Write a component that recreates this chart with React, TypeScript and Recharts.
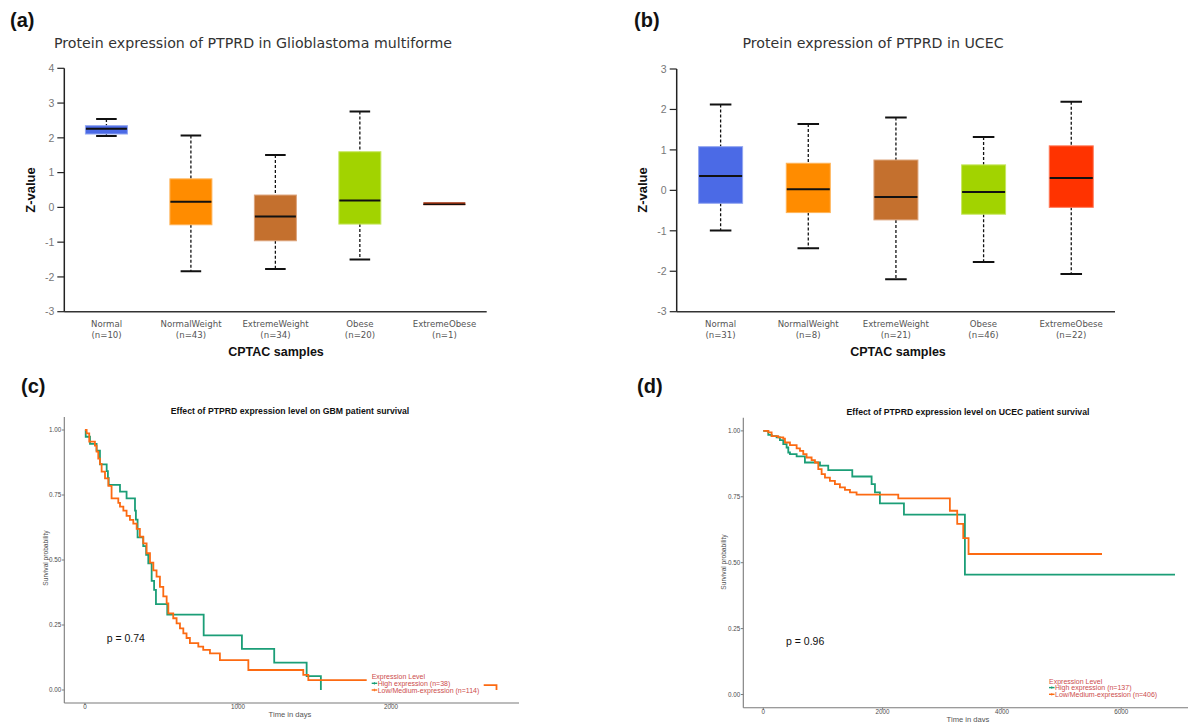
import React from 'react';
import { ComposedChart, Bar, XAxis, YAxis, LineChart, Line } from 'recharts';

const SANS = '"Liberation Sans", Arial, sans-serif';
const HUM = '"DejaVu Sans", sans-serif';

// ---------- Panel (a): GBM protein expression (box plot) ----------
const gbmCategories = ['Normal', 'NormalWeight', 'ExtremeWeight', 'Obese', 'ExtremeObese'];
const gbmCounts = [10, 43, 34, 20, 1];
const gbmMin = [2.05, -1.84, -1.77, -1.5, 0.105];
const gbmQ1 = [2.11, -0.5, -0.96, -0.48, 0.105];
const gbmMedian = [2.26, 0.16, -0.26, 0.2, 0.105];
const gbmQ3 = [2.35, 0.82, 0.355, 1.6, 0.105];
const gbmMax = [2.54, 2.07, 1.51, 2.76, 0.105];
const gbmYTicks = [-3, -2, -1, 0, 1, 2, 3, 4];

// ---------- Panel (b): UCEC protein expression (box plot) ----------
const ucecCategories = ['Normal', 'NormalWeight', 'ExtremeWeight', 'Obese', 'ExtremeObese'];
const ucecCounts = [31, 8, 21, 46, 22];
const ucecMin = [-0.99, -1.43, -2.2, -1.77, -2.07];
const ucecQ1 = [-0.32, -0.55, -0.73, -0.59, -0.42];
const ucecMedian = [0.355, 0.03, -0.165, -0.04, 0.305];
const ucecQ3 = [1.08, 0.67, 0.75, 0.63, 1.1];
const ucecMax = [2.12, 1.64, 1.8, 1.32, 2.19];
const ucecYTicks = [-3, -2, -1, 0, 1, 2, 3];

const boxFill = ['#4B6AE6', '#FF8C00', '#C4702E', '#A2D300', '#FF3300'];
const boxEdge = ['#93A6F0', '#FFB357', '#DCA37A', '#C6E660', '#FF7A5A'];

// ---------- Panel (c): GBM survival ----------
const gbmHighTime = [0, 5, 33, 76, 98, 142, 150, 155, 229, 272, 327, 333, 344, 381, 400, 414, 436, 452, 464, 538, 776, 1026, 1237, 1449, 1542];
const gbmHighSurv = [1.0, 0.974, 0.947, 0.921, 0.868, 0.842, 0.816, 0.789, 0.763, 0.737, 0.69, 0.655, 0.587, 0.553, 0.52, 0.487, 0.42, 0.385, 0.33, 0.29, 0.21, 0.158, 0.105, 0.053, 0];
const gbmLowTime = [0, 11, 28, 65, 76, 87, 98, 109, 131, 153, 174, 218, 229, 251, 272, 294, 316, 338, 359, 381, 403, 425, 447, 468, 490, 512, 534, 545, 577, 599, 621, 643, 664, 686, 741, 773, 817, 882, 1068, 1427, 1460, 2300, 2690];
const gbmLowSurv = [1.0, 0.987, 0.955, 0.94, 0.917, 0.89, 0.87, 0.84, 0.814, 0.785, 0.737, 0.72, 0.705, 0.69, 0.67, 0.654, 0.64, 0.62, 0.59, 0.564, 0.526, 0.49, 0.46, 0.436, 0.397, 0.36, 0.333, 0.295, 0.276, 0.256, 0.237, 0.218, 0.2, 0.18, 0.167, 0.154, 0.141, 0.115, 0.077, 0.058, 0.038, 0.019, 0];
const gbmXTicks = [0, 1000, 2000];

// ---------- Panel (d): UCEC survival ----------
const ucecHighTime = [0, 84, 140, 223, 279, 335, 391, 419, 447, 559, 698, 950, 1089, 1492, 1816, 1872, 1955, 2358, 3380, 6902];
const ucecHighSurv = [1, 0.985, 0.98, 0.975, 0.965, 0.95, 0.937, 0.918, 0.912, 0.903, 0.88, 0.868, 0.851, 0.827, 0.798, 0.767, 0.725, 0.682, 0.455, 0.455];
const ucecLowTime = [0, 84, 140, 251, 335, 363, 447, 559, 615, 670, 726, 810, 866, 922, 978, 1034, 1117, 1201, 1285, 1369, 1453, 1564, 2263, 3128, 3251, 3352, 3441, 5678];
const ucecLowSurv = [1, 0.994, 0.98, 0.975, 0.971, 0.956, 0.946, 0.934, 0.924, 0.912, 0.899, 0.889, 0.88, 0.855, 0.836, 0.823, 0.81, 0.798, 0.786, 0.776, 0.767, 0.758, 0.744, 0.697, 0.647, 0.593, 0.533, 0.533];
const ucecXTicks = [0, 2000, 4000, 6000];

const survTicks = [0, 0.25, 0.5, 0.75, 1];

const GREEN = '#1B9E77';
const ORANGE = '#FC6A12';
const LEGEND_RED = '#CC4C4C';

type BoxRow = { name: string; n: number; range: [number, number]; min: number; q1: number; med: number; q3: number; max: number; idx: number };

function makeRows(cats: string[], counts: number[], mins: number[], q1: number[], med: number[], q3: number[], maxs: number[]): BoxRow[] {
  return cats.map((name, i) => ({ name, n: counts[i], range: [mins[i], maxs[i]], min: mins[i], q1: q1[i], med: med[i], q3: q3[i], max: maxs[i], idx: i }));
}

function makeBoxShape(domainMin: number, lastIndex: number) {
  const state = { ppu: 0 };
  return (props: any) => {
    const { x, y, width, height, payload } = props;
    const idx = payload.idx;
    const top = Math.min(y, y + height);
    const h = Math.abs(height);
    const span = payload.max - payload.min;
    if (h > 0 && span > 0) state.ppu = h / span;
    const ppu = state.ppu;
    const py = (v: number) => top + (payload.max - v) * ppu;
    const cx = x + width / 2;
    const axisY = py(domainMin);
    const capHalf = width * 0.245;
    const parts: any[] = [];
    const tickColor = '#BACDE2';
    parts.push(<line key="tl" x1={cx - width} x2={cx - width} y1={axisY + 1} y2={axisY + 6} stroke={tickColor} strokeWidth={1.2} />);
    if (idx === lastIndex) parts.push(<line key="tr" x1={cx + width} x2={cx + width} y1={axisY + 1} y2={axisY + 6} stroke={tickColor} strokeWidth={1.2} />);
    if (span <= 0) {
      parts.push(<rect key="flat" x={x} y={top - 1.5} width={width} height={3} fill="#A0300C" />);
      parts.push(<line key="fm" x1={x} x2={x + width} y1={top + 0.6} y2={top + 0.6} stroke="#111" strokeWidth={1.4} />);
      return <g>{parts}</g>;
    }
    parts.push(<line key="wu" x1={cx} x2={cx} y1={py(payload.max)} y2={py(payload.q3)} stroke="#111" strokeWidth={1.3} strokeDasharray="3 2" />);
    parts.push(<line key="wl" x1={cx} x2={cx} y1={py(payload.q1)} y2={py(payload.min)} stroke="#111" strokeWidth={1.3} strokeDasharray="3 2" />);
    parts.push(<line key="cu" x1={cx - capHalf} x2={cx + capHalf} y1={py(payload.max)} y2={py(payload.max)} stroke="#111" strokeWidth={2} />);
    parts.push(<line key="cl" x1={cx - capHalf} x2={cx + capHalf} y1={py(payload.min)} y2={py(payload.min)} stroke="#111" strokeWidth={2} />);
    parts.push(<rect key="box" x={x} y={py(payload.q3)} width={width} height={py(payload.q1) - py(payload.q3)} fill={boxFill[idx]} stroke={boxEdge[idx]} strokeWidth={1} />);
    parts.push(<line key="med" x1={x + 0.5} x2={x + width - 0.5} y1={py(payload.med)} y2={py(payload.med)} stroke="#111" strokeWidth={2} />);
    return <g>{parts}</g>;
  };
}

function catTick(props: any) {
  const { x, y, payload } = props;
  const [label, n] = String(payload.value).split('|');
  return (
    <g>
      <text x={x} y={y + 7} textAnchor="middle" fontSize={8.6} fill="#555" fontFamily={HUM}>{label}</text>
      <text x={x} y={y + 18} textAnchor="middle" fontSize={8.6} fill="#555" fontFamily={HUM}>{`(n=${n})`}</text>
    </g>
  );
}

function BoxChart(props: { left: number; top: number; width: number; height: number; margin: any; yWidth: number; rows: BoxRow[]; domain: [number, number]; ticks: number[] }) {
  const { left, top, width, height, margin, yWidth, rows, domain, ticks } = props;
  const data = rows.map((r) => ({ ...r, label: `${r.name}|${r.n}` }));
  const shape = makeBoxShape(domain[0], rows.length - 1);
  return (
    <div style={{ position: 'absolute', left, top, width, height }}>
      <ComposedChart width={width} height={height} data={data} margin={margin} barCategoryGap="25%">
        <XAxis dataKey="label" interval={0} tickLine={false} axisLine={{ stroke: '#333', strokeWidth: 1.5 }} height={38.3} tick={catTick} />
        <YAxis type="number" domain={domain} ticks={ticks} interval={0} allowDataOverflow width={yWidth}
          tickSize={7} tickMargin={3} axisLine={{ stroke: '#222', strokeWidth: 1.5 }} tickLine={{ stroke: '#222', strokeWidth: 1.2 }}
          tick={{ fontSize: 10.5, fill: '#777', fontFamily: SANS }} />
        <Bar dataKey="range" shape={shape} isAnimationActive={false} />
      </ComposedChart>
    </div>
  );
}

function toPoints(ts: number[], ss: number[]) {
  return ts.map((t, i) => ({ t, s: ss[i] }));
}

function SurvChart(props: { left: number; top: number; width: number; height: number; margin: any; yWidth: number; xHeight: number; xDomain: [number, number]; xTicks: number[]; high: any[]; low: any[] }) {
  const { left, top, width, height, margin, yWidth, xHeight, xDomain, xTicks, high, low } = props;
  return (
    <div style={{ position: 'absolute', left, top, width, height }}>
      <LineChart width={width} height={height} margin={margin}>
        <XAxis type="number" dataKey="t" domain={xDomain} ticks={xTicks} allowDataOverflow height={xHeight}
          tickSize={2} tickMargin={0} axisLine={{ stroke: '#7a7a7a', strokeWidth: 1.1 }} tickLine={{ stroke: '#7a7a7a' }}
          tick={{ fontSize: 6.3, fill: '#4d4d4d', fontFamily: SANS }} />
        <YAxis type="number" domain={[-0.05, 1.05]} ticks={survTicks} allowDataOverflow width={yWidth}
          tickSize={2.5} tickMargin={0.5} axisLine={{ stroke: '#7a7a7a', strokeWidth: 1.1 }} tickLine={{ stroke: '#7a7a7a' }}
          tickFormatter={(v: number) => v.toFixed(2)} tick={{ fontSize: 6.3, fill: '#4d4d4d', fontFamily: SANS }} />
        <Line data={high} dataKey="s" type="stepAfter" stroke={GREEN} strokeWidth={1.8} dot={false} isAnimationActive={false} />
        <Line data={low} dataKey="s" type="stepAfter" stroke={ORANGE} strokeWidth={1.8} dot={false} isAnimationActive={false} />
      </LineChart>
    </div>
  );
}

function LegendBlock(props: { x: number; y: number; w: number; highLabel: string; lowLabel: string }) {
  const { x, y, w, highLabel, lowLabel } = props;
  const fs = 7;
  return (
    <g fontFamily={SANS} fontSize={fs} fill={LEGEND_RED}>
      <rect x={x - 5} y={y - 5.5} width={w} height={23} fill="#fff" />
      <text x={x} y={y} dominantBaseline="central">Expression Level</text>
      <line x1={x} x2={x + 5.5} y1={y + 6.6} y2={y + 6.6} stroke={GREEN} strokeWidth={1.4} />
      <line x1={x + 2.75} x2={x + 2.75} y1={y + 5.3} y2={y + 7.9} stroke={GREEN} strokeWidth={0.8} />
      <text x={x + 6} y={y + 6.6} dominantBaseline="central">{highLabel}</text>
      <line x1={x} x2={x + 5.5} y1={y + 13.3} y2={y + 13.3} stroke={ORANGE} strokeWidth={1.4} />
      <line x1={x + 2.75} x2={x + 2.75} y1={y + 12} y2={y + 14.6} stroke={ORANGE} strokeWidth={0.8} />
      <text x={x + 6} y={y + 13.3} dominantBaseline="central">{lowLabel}</text>
    </g>
  );
}

export default function App() {
  const gbmRows = makeRows(gbmCategories, gbmCounts, gbmMin, gbmQ1, gbmMedian, gbmQ3, gbmMax);
  const ucecRows = makeRows(ucecCategories, ucecCounts, ucecMin, ucecQ1, ucecMedian, ucecQ3, ucecMax);
  return (
    <div style={{ position: 'absolute', left: 0, top: 0, width: 1190, height: 722, background: '#fff', overflow: 'hidden' }}>
      <BoxChart left={0} top={50} width={500} height={300} margin={{ top: 18.3, right: 13.3, bottom: 0, left: 20 }} yWidth={44.3}
        rows={gbmRows} domain={[-3, 4]} ticks={gbmYTicks} />
      <BoxChart left={600} top={50} width={530} height={300} margin={{ top: 19, right: 15, bottom: 0, left: 30 }} yWidth={46.7}
        rows={ucecRows} domain={[-3, 3]} ticks={ucecYTicks} />
      <SurvChart left={0} top={400} width={540} height={322} margin={{ top: 17, right: 21, bottom: 0, left: 20.3 }} yWidth={44} xHeight={19}
        xDomain={[-135, 2837]} xTicks={gbmXTicks} high={toPoints(gbmHighTime, gbmHighSurv)} low={toPoints(gbmLowTime, gbmLowSurv)} />
      <SurvChart left={700} top={400} width={490} height={322} margin={{ top: 17.7, right: 2, bottom: 0, left: 0 }} yWidth={43.3} xHeight={14.3}
        xDomain={[-335, 7120]} xTicks={ucecXTicks} high={toPoints(ucecHighTime, ucecHighSurv)} low={toPoints(ucecLowTime, ucecLowSurv)} />
      <svg width={1190} height={722} style={{ position: 'absolute', left: 0, top: 0, pointerEvents: 'none' }}>
        <g fontFamily={SANS} fontWeight="bold" fontSize={20} fill="#111">
          <text x={10} y={20} dominantBaseline="central">(a)</text>
          <text x={634} y={20} dominantBaseline="central">(b)</text>
          <text x={21} y={386} dominantBaseline="central">(c)</text>
          <text x={637} y={386} dominantBaseline="central">(d)</text>
        </g>
        <g fontFamily={HUM} fontSize={14.2} fill="#333" textAnchor="middle">
          <text x={253} y={43} dominantBaseline="central">Protein expression of PTPRD in Glioblastoma multiforme</text>
          <text x={873} y={43} dominantBaseline="central">Protein expression of PTPRD in UCEC</text>
        </g>
        <g fontFamily={SANS} fontWeight="bold" fontSize={13} fill="#111" textAnchor="middle">
          <text x={30} y={190} dominantBaseline="central" transform="rotate(-90 30 190)">Z-value</text>
          <text x={642} y={190} dominantBaseline="central" transform="rotate(-90 642 190)">Z-value</text>
          <text x={276} y={352} dominantBaseline="central" fontSize={12.5}>CPTAC samples</text>
          <text x={898} y={352} dominantBaseline="central" fontSize={12.5}>CPTAC samples</text>
        </g>
        <g fontFamily={SANS} fontWeight="bold" fontSize={8.7} fill="#111" textAnchor="middle">
          <text x={290} y={411} dominantBaseline="central">Effect of PTPRD expression level on GBM patient survival</text>
          <text x={968} y={412} dominantBaseline="central">Effect of PTPRD expression level on UCEC patient survival</text>
        </g>
        <g fontFamily={SANS} fontSize={6.6} fill="#555" textAnchor="middle">
          <text x={45} y={558} dominantBaseline="central" transform="rotate(-90 45 558)">Survival probability</text>
          <text x={723} y={562} dominantBaseline="central" transform="rotate(-90 723 562)">Survival probability</text>
          <text x={290} y={714} dominantBaseline="central" fontSize={7.6}>Time in days</text>
          <text x={968} y={719} dominantBaseline="central" fontSize={7.6}>Time in days</text>
        </g>
        <g fontFamily={SANS} fontSize={10.5} fill="#111">
          <text x={106.7} y={638} dominantBaseline="central">p = 0.74</text>
          <text x={786} y={641} dominantBaseline="central">p = 0.96</text>
        </g>
        <LegendBlock x={371.7} y={676.7} w={117} highLabel="High expression (n=38)" lowLabel="Low/Medium-expression (n=114)" />
        <LegendBlock x={1049} y={681} w={117} highLabel="High expression (n=137)" lowLabel="Low/Medium-expression (n=406)" />
      </svg>
    </div>
  );
}
